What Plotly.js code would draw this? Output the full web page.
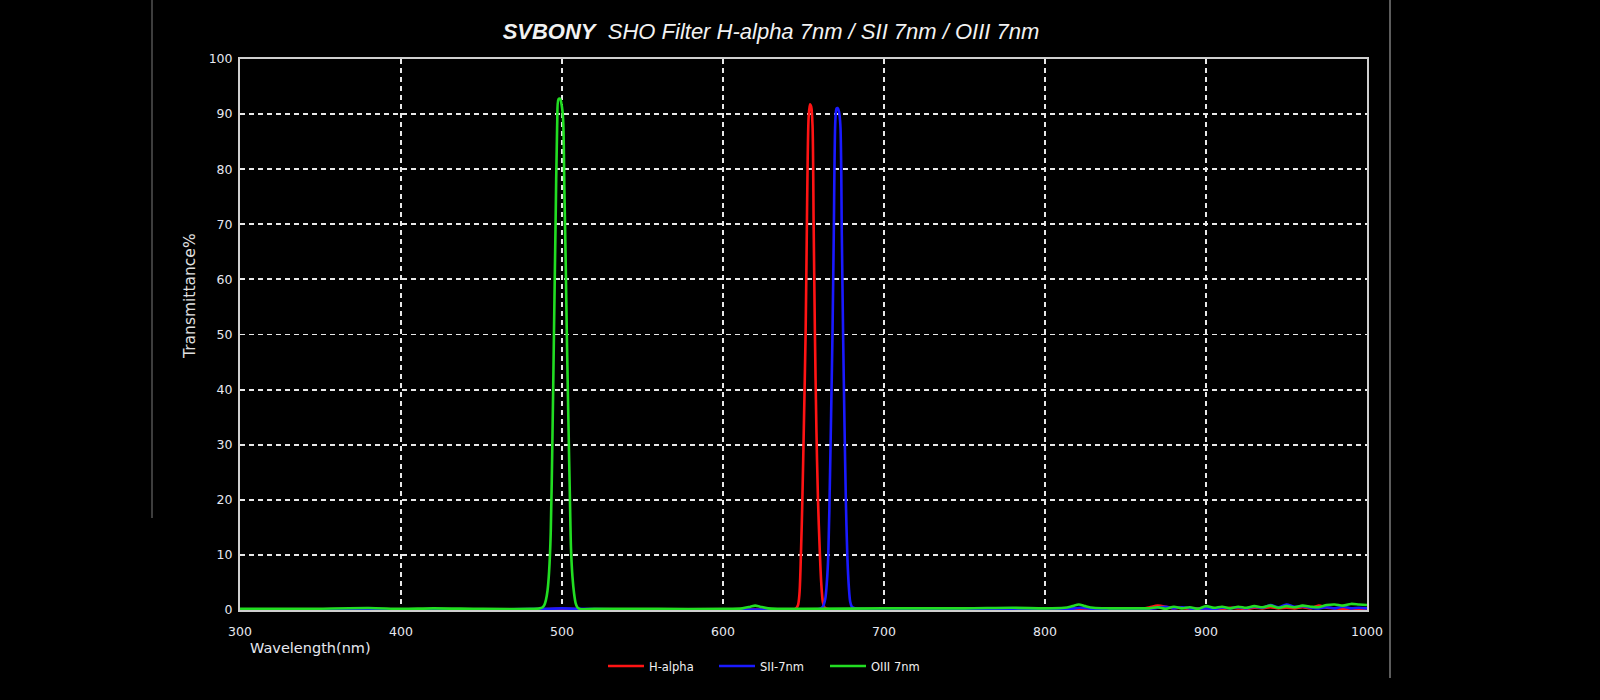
<!DOCTYPE html>
<html>
<head>
<meta charset="utf-8">
<script src="https://cdn.plot.ly/plotly-3.0.1.min.js"></script>
<style>html,body{margin:0;padding:0;background:#000;}#chart{width:1600px;height:700px;}</style>
</head>
<body>
<div id="chart"></div>
<script>
// ---- data ----
const haName = 'H-alpha';
const haWl = [300, 350, 400, 450, 480, 500, 520, 560, 600, 630, 645, 646.5, 647.5, 648.4, 649.3, 650.2, 651.3, 652, 652.6, 653.2, 654, 654.8, 655.6, 656.3, 657.1, 658, 659, 660.2, 661, 662, 663, 665, 680, 720, 760, 800, 830, 860, 865, 870, 875, 880, 885, 890, 895, 900, 905, 910, 915, 920, 925, 930, 935, 940, 945, 950, 955, 960, 965, 970, 975, 980, 985, 990, 995, 1000];
const haT  = [0.1, 0.1, 0.1, 0.1, 0.1, 0.2, 0.1, 0.1, 0.1, 0.1, 0.2, 0.8, 3, 10, 20, 33, 50, 67, 82, 89.5, 91.8, 91.3, 88, 70, 50, 33, 20, 10, 5, 1.5, 0.5, 0.2, 0.1, 0.1, 0.1, 0.1, 0.1, 0.2, 0.5, 0.8, 0.6, 0.3, 0.4, 0.2, 0.3, 0.2, 0.3, 0.2, 0.4, 0.3, 0.2, 0.4, 0.3, 0.5, 0.3, 0.4, 0.3, 0.5, 0.3, 0.8, 0.4, 0.3, 0.2, 0.3, 0.2, 0.3];

const siiName = 'SII-7nm';
const siiWl = [300, 350, 400, 450, 490, 500, 510, 550, 600, 640, 655, 660, 662, 663.5, 664.5, 665.4, 666.5, 667.3, 668, 668.8, 669.8, 670.5, 671.2, 672, 672.9, 673.8, 674.6, 675.5, 676.3, 677.2, 678.2, 679, 680, 682, 700, 750, 800, 815, 822, 830, 860, 865, 870, 875, 880, 885, 890, 895, 900, 905, 910, 915, 920, 925, 930, 935, 940, 945, 950, 955, 960, 965, 970, 975, 980, 985, 990, 995, 1000];
const siiT  = [0.1, 0.1, 0.1, 0.1, 0.2, 0.3, 0.2, 0.1, 0.1, 0.1, 0.1, 0.2, 0.6, 2, 5, 10, 25, 38, 50, 68, 89, 91, 91.1, 90.5, 88, 68, 50, 33, 20, 10, 4, 1.5, 0.6, 0.3, 0.1, 0.1, 0.1, 0.2, 0.4, 0.2, 0.1, 0.2, 0.4, 0.6, 0.3, 0.5, 0.3, 0.2, 0.3, 0.2, 0.4, 0.3, 0.5, 0.3, 0.6, 0.4, 0.9, 0.5, 1.0, 0.6, 0.7, 0.4, 0.3, 0.5, 0.3, 0.6, 0.3, 0.4, 0.3];

const oiiiName = 'OIII 7nm';
const oiiiWl = [300, 340, 380, 400, 420, 450, 480, 486, 488, 489, 490, 491, 492, 493, 494, 495, 496, 497, 497.8, 498.8, 499.8, 500.7, 501.5, 502.3, 503, 504, 505, 505.6, 506.5, 507.5, 508.5, 509.5, 511, 520, 560, 600, 612, 617, 620, 623, 628, 650, 700, 750, 780, 800, 812, 817, 821, 825, 830, 840, 860, 865, 870, 875, 880, 885, 890, 895, 900, 905, 910, 915, 920, 925, 930, 935, 940, 945, 950, 955, 960, 965, 970, 975, 980, 985, 990, 995, 1000];
const oiiiT  = [0.2, 0.2, 0.35, 0.2, 0.3, 0.2, 0.2, 0.3, 0.5, 0.9, 1.8, 3.5, 7, 14, 30, 50, 70, 88, 92.7, 92.8, 91.6, 89, 76, 63, 50, 34, 19, 11, 6, 3, 1.2, 0.5, 0.2, 0.2, 0.2, 0.2, 0.3, 0.6, 0.8, 0.6, 0.3, 0.2, 0.3, 0.3, 0.4, 0.3, 0.4, 0.7, 1.0, 0.7, 0.4, 0.3, 0.3, 0.3, 0.5, 0.2, 0.6, 0.3, 0.5, 0.2, 0.7, 0.4, 0.6, 0.3, 0.6, 0.4, 0.7, 0.5, 0.8, 0.4, 0.7, 0.5, 0.8, 0.6, 0.5, 0.9, 1.0, 0.8, 1.1, 1.0, 0.9];

const xTicks = [300, 400, 500, 600, 700, 800, 900, 1000];
const yTicks = [0, 10, 20, 30, 40, 50, 60, 70, 80, 90, 100];

const titleText = '<b>SVBONY</b>  SHO Filter H-alpha 7nm / SII 7nm / OIII 7nm';
const xTitle = 'Wavelength(nm)';
const yTitle = 'Transmittance%';

// ---- chart ----
const lineStyle = (c) => ({color: c, width: 2.6, shape: 'spline', smoothing: 0.8});
const traces = [
  {x: haWl, y: haT, name: haName, type: 'scatter', mode: 'lines', line: lineStyle('#ff1414')},
  {x: siiWl, y: siiT, name: siiName, type: 'scatter', mode: 'lines', line: lineStyle('#1a1aff')},
  {x: oiiiWl, y: oiiiT, name: oiiiName, type: 'scatter', mode: 'lines', line: lineStyle('#22dd22')}
];

const tickFont = {family: 'DejaVu Sans, Verdana, sans-serif', size: 12.5, color: '#e6e8f0'};
const W = 1600, H = 700, L = 240, R = 1367, T = 59, B = 610;
const pw = R - L, ph = B - T;
const px = (v) => (v - L) / pw;
const py = (v) => (B - v) / ph;

const layout = {
  width: W, height: H,
  paper_bgcolor: '#000', plot_bgcolor: '#000',
  margin: {l: L, r: W - R, t: T, b: H - B, pad: 0},
  showlegend: true,
  title: {
    text: titleText,
    font: {family: 'Liberation Sans, Arial, sans-serif', size: 22, color: '#f2f2f2', style: 'italic'},
    x: 771 / W, xref: 'container', xanchor: 'center',
    y: 1 - 31 / H, yref: 'container', yanchor: 'middle'
  },
  xaxis: {
    range: [300, 1000], tickvals: xTicks, ticktext: xTicks.map(String),
    showgrid: true, gridcolor: '#e8e8e8', griddash: '5px,4px', gridwidth: 1.8,
    zeroline: false, showline: true, linecolor: '#cfcfcf', linewidth: 2, mirror: true,
    ticks: '', tickfont: tickFont, ticklabelstandoff: 9, fixedrange: true
  },
  yaxis: {
    range: [0, 100], tickvals: yTicks, ticktext: yTicks.map(String),
    showgrid: true, gridcolor: '#e8e8e8', griddash: '5px,4px', gridwidth: 1.8,
    zeroline: false, showline: true, linecolor: '#cfcfcf', linewidth: 2, mirror: true,
    ticks: '', tickfont: tickFont, ticklabelstandoff: 3, fixedrange: true
  },
  legend: {
    orientation: 'h', x: px(603), xanchor: 'left', y: py(666), yanchor: 'middle',
    font: {family: 'DejaVu Sans, Verdana, sans-serif', size: 11.5, color: '#f0f0f0'},
    bgcolor: 'rgba(0,0,0,0)', itemwidth: 36, entrywidth: 60, entrywidthmode: 'pixels', tracegroupgap: 0
  },
  annotations: [
    {text: yTitle, xref: 'paper', yref: 'paper', x: px(190), y: py(296), textangle: -90,
     showarrow: false, xanchor: 'center', yanchor: 'middle',
     font: {family: 'DejaVu Sans, Verdana, sans-serif', size: 15.5, color: '#e0e0e0'}},
    {text: xTitle, xref: 'paper', yref: 'paper', x: px(248), y: py(648),
     showarrow: false, xanchor: 'left', yanchor: 'middle',
     font: {family: 'DejaVu Sans, Verdana, sans-serif', size: 14.5, color: '#e6e8f0'}}
  ],
  shapes: [
    {type: 'line', xref: 'paper', yref: 'paper', x0: px(152), x1: px(152), y0: py(518), y1: py(0),
     line: {color: '#7a7a7a', width: 1}},
    {type: 'line', xref: 'paper', yref: 'paper', x0: px(1390), x1: px(1390), y0: py(678), y1: py(0),
     line: {color: '#9a9a9a', width: 1.2}}
  ]
};

Plotly.newPlot('chart', traces, layout, {displayModeBar: false, staticPlot: true});
</script>
</body>
</html>
